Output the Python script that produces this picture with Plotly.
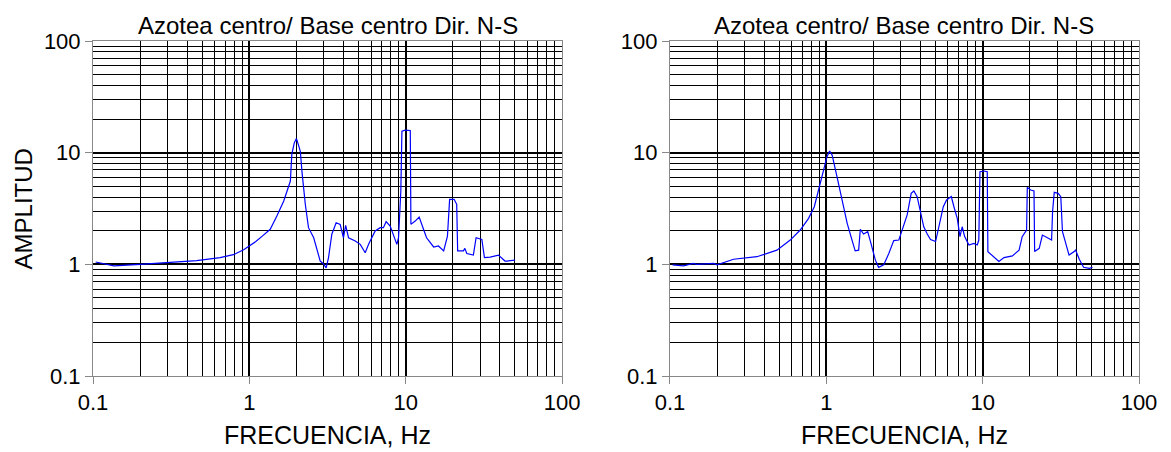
import plotly.graph_objects as go
from plotly.subplots import make_subplots

# Left panel data (frequency Hz, amplitude)
f_left = [0.104, 0.136, 0.2, 0.298, 0.46, 0.65, 0.79, 0.92, 0.99, 1.1, 1.21, 1.36, 1.50, 1.66,
          1.83, 1.87, 1.94, 2.0, 2.07, 2.12, 2.17, 2.28, 2.39, 2.58, 2.84, 2.98, 3.10, 3.21,
          3.37, 3.59, 3.81, 4.0, 4.13, 4.31, 4.76, 5.12, 5.51, 5.79, 6.38, 6.87, 7.2, 7.5, 7.96,
          8.36, 8.78, 9.0, 9.31, 9.46, 9.93, 10.7, 10.8, 11.5, 12.2, 13.0, 13.6, 15.1, 16.2, 17.5,
          18.5, 19.1, 20.4, 21.2, 21.5, 23.4, 23.9, 24.6, 27.1, 28.2, 30.7, 31.9, 34.7, 39.2,
          43.2, 44.5, 50.1]
a_left = [1.05, 0.97, 1.0, 1.03, 1.08, 1.15, 1.22, 1.35, 1.45, 1.6, 1.79, 2.06, 2.71, 3.69,
          5.57, 9.7, 12.3, 13.4, 11.5, 10.2, 6.8, 3.45, 2.13, 1.73, 1.07, 1.01, 0.93, 1.15,
          1.86, 2.36, 2.28, 1.73, 2.23, 1.73, 1.62, 1.51, 1.27, 1.51, 1.99, 2.13, 2.13, 2.41, 2.2,
          1.79, 1.51, 1.73, 4.54, 15.6, 15.9, 15.8, 2.28, 2.44, 2.65, 2.06, 1.73, 1.43, 1.46, 1.32,
          1.79, 3.82, 3.82, 3.45, 1.32, 1.32, 1.39, 1.25, 1.21, 1.73, 1.67, 1.15, 1.16, 1.21,
          1.07, 1.07, 1.09]

# Right panel data
f_right = [0.104, 0.122, 0.141, 0.148, 0.19, 0.2, 0.255, 0.36, 0.483, 0.588, 0.681, 0.77, 0.838,
           0.893, 0.952, 1.01, 1.05, 1.09, 1.17, 1.26, 1.36, 1.46, 1.53, 1.61, 1.65, 1.73, 1.84,
           1.93, 2.06, 2.16, 2.33, 2.51, 2.70, 2.91, 3.05, 3.29, 3.49, 3.63, 3.81, 4.0, 4.2, 4.42,
           4.64, 5.0, 5.25, 5.6, 5.88, 6.3, 6.55, 6.88, 7.16, 7.4, 7.67, 8.17, 8.79, 9.24, 9.45,
           9.61, 10.2, 10.7, 10.8, 11.8, 12.7, 13.7, 15.5, 17.1, 17.9, 19.1, 19.3, 20.3, 21.3,
           21.5, 23.0, 24.1, 26.0, 27.6, 28.0, 28.7, 30.4, 31.6, 32.4, 34.0, 35.7, 38.5, 39.3,
           41.5, 44.2, 48.1, 50.4]
a_right = [0.99, 0.97, 1.02, 1.0, 1.02, 0.99, 1.11, 1.17, 1.34, 1.65, 2.03, 2.58, 3.28,
           4.63, 6.53, 9.2, 10.35, 9.5, 6.1, 3.77, 2.33, 1.65, 1.32, 1.34, 2.06, 1.87, 1.96,
           1.54, 1.09, 0.94, 0.99, 1.25, 1.63, 1.65, 2.03, 2.77, 4.32, 4.54, 4.04, 2.86, 2.17, 1.87,
           1.67, 1.6, 2.17, 3.28, 3.77, 4.04, 3.28, 2.58, 1.77, 2.17, 1.77, 1.49, 1.54, 1.49, 1.65,
           6.76, 6.85, 6.76, 1.30, 1.17, 1.06, 1.15, 1.19, 1.34, 1.77, 2.03, 4.89, 4.63, 4.54,
           1.30, 1.39, 1.83, 1.71, 1.65, 2.96, 4.41, 4.32, 4.04, 1.96, 1.54, 1.21, 1.30, 1.34,
           1.11, 0.94, 0.92, 0.94]

title_text = "Azotea centro/ Base centro Dir. N-S"
x_title = "FRECUENCIA, Hz"
y_title = "AMPLITUD"
x_major = [0.1, 1, 10, 100]
x_major_text = ["0.1", "1", "10", "100"]
y_major = [0.1, 1, 10, 100]
y_major_text = ["0.1", "1", "10", "100"]
minor_vals = [m * 10 ** e for e in (-1, 0, 1) for m in range(2, 10)]

FONT = "Liberation Sans, Arial, sans-serif"

fig = make_subplots(rows=1, cols=2, horizontal_spacing=0.1032)

for col, (fx, ay) in enumerate([(f_left, a_left), (f_right, a_right)], start=1):
    fig.add_trace(go.Scatter(x=fx, y=ay, mode="lines",
                             line=dict(color="#0000ff", width=1.2),
                             showlegend=False), row=1, col=col)

common = dict(type="log", showgrid=True, gridcolor="black", gridwidth=2,
              showline=True, linecolor="#888888", linewidth=1, mirror=True,
              ticks="outside", ticklen=7, tickcolor="#888888",
              tickfont=dict(family=FONT, size=22, color="black"),
              tickmode="array", zeroline=False, automargin=False,
              minor=dict(tickmode="array", tickvals=minor_vals, showgrid=True,
                         gridcolor="black", gridwidth=1, ticks=""))

for col in (1, 2):
    fig.update_xaxes(range=[-1, 2], tickvals=x_major, ticktext=x_major_text,
                     **common, row=1, col=col)
    fig.update_yaxes(range=[-1, 2], tickvals=y_major, ticktext=y_major_text,
                     **common, row=1, col=col)

for xref in ("x domain", "x2 domain"):
    fig.add_annotation(text=title_text, xref=xref, yref="paper", x=0.5, y=1.0,
                       yanchor="bottom", showarrow=False,
                       font=dict(family=FONT, size=24, color="black"))
    fig.add_annotation(text=x_title, xref=xref, yref="paper", x=0.5, y=-0.176,
                       yanchor="middle", showarrow=False,
                       font=dict(family=FONT, size=25, color="black"))

fig.add_annotation(text=y_title, xref="paper", yref="paper", x=-0.066, y=0.5,
                   xanchor="center", yanchor="middle", textangle=-90, showarrow=False,
                   font=dict(family=FONT, size=24, color="black"))

fig.update_layout(width=1171, height=452, margin=dict(l=93, r=32, t=41, b=76),
                  paper_bgcolor="white", plot_bgcolor="white",
                  font=dict(family=FONT, color="black"))

fig.write_html("out.html")
